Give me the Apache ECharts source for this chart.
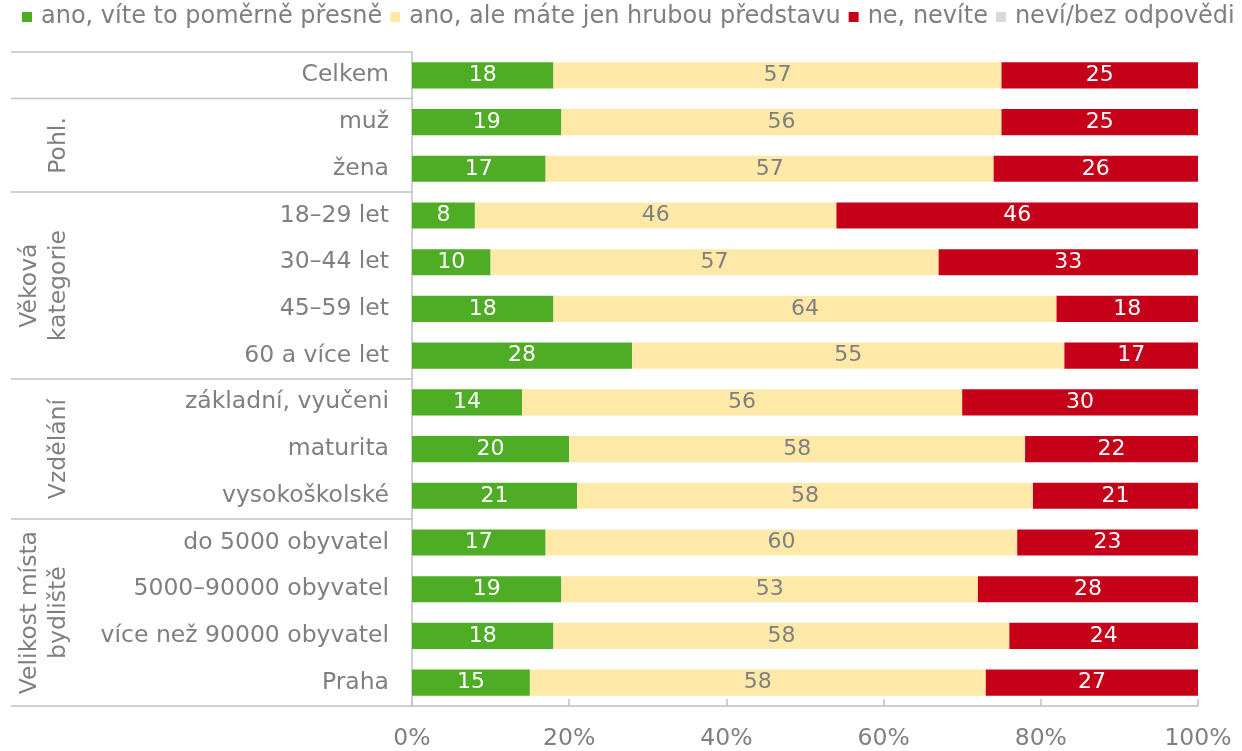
<!DOCTYPE html>
<html>
<head>
<meta charset="utf-8">
<script src="https://cdn.jsdelivr.net/npm/echarts@6/dist/echarts.min.js"></script>
<style>
  html, body { margin: 0; padding: 0; background: #fff; }
  #chart { width: 1242px; height: 751px; }
</style>
</head>
<body>
<div id="chart"></div>
<script>
// categories, top to bottom
const categories = [
  "Celkem",
  "muž", "žena",
  "18–29 let", "30–44 let", "45–59 let", "60 a více let",
  "základní, vyučeni", "maturita", "vysokoškolské",
  "do 5000 obyvatel", "5000–90000 obyvatel", "více než 90000 obyvatel", "Praha"
]

const seriesNames = [
  "ano, víte to poměrně přesně",
  "ano, ale máte jen hrubou představu",
  "ne, nevíte",
  "neví/bez odpovědi"
]

const exactly = [18, 19, 17, 8, 10, 18, 28, 14, 20, 21, 17, 19, 18, 15]
const roughly = [57, 56, 57, 46, 57, 64, 55, 56, 58, 58, 60, 53, 58, 58]
const dontKnow = [25, 25, 26, 46, 33, 18, 17, 30, 22, 21, 23, 28, 24, 27]
const noAnswer = [0, 0, 0, 0, 0, 0, 0, 0, 0, 0, 0, 0, 0, 0]

const xTicks = [0, 20, 40, 60, 80, 100]

// row groups (first/last category index), label text
const groups = [
  { from: 0, to: 0, label: "" },
  { from: 1, to: 2, label: "Pohl." },
  { from: 3, to: 6, label: "Věková\nkategorie" },
  { from: 7, to: 9, label: "Vzdělání" },
  { from: 10, to: 13, label: "Velikost místa\nbydliště" }
]

const colors = ["#4EAD25", "#FFE9A9", "#C7001A", "#D9D9D9"]
const gray = "#7f7f7f"
const lineGray = "#c0c0c0"
const font = "DejaVu Sans"

const chart = echarts.init(document.getElementById("chart"))

function barSeries(name, data, color, labelColor) {
  return {
    type: "bar",
    name,
    stack: "total",
    data,
    barWidth: "56%",
    itemStyle: { color },
    label: {
      show: labelColor != null,
      position: "inside",
      color: labelColor,
      fontFamily: font,
      fontSize: 22,
      formatter: (p) => (p.value > 0 ? p.value : "")
    }
  }
}

chart.setOption({
  animation: false,
  textStyle: { fontFamily: font },
  legend: {
    data: seriesNames,
    top: 5,
    left: 22,
    width: 1220,
    padding: 0,
    icon: "rect",
    itemWidth: 10,
    itemHeight: 10,
    itemGap: 8,
    textStyle: { fontSize: 24, color: gray, fontFamily: font, padding: [0, 0, 0, 4] }
  },
  grid: { left: 412, right: 44, top: 52, bottom: 42 },
  xAxis: {
    type: "value",
    min: xTicks[0],
    max: xTicks[xTicks.length - 1],
    interval: 20,
    axisLine: { show: true, lineStyle: { color: lineGray, width: 1.5 } },
    axisTick: { show: true, inside: true, length: 7, lineStyle: { color: lineGray, width: 1.5 } },
    splitLine: { show: false },
    axisLabel: { formatter: "{value}%", fontSize: 23.5, color: gray, margin: 21, fontFamily: font }
  },
  yAxis: {
    type: "category",
    data: categories,
    inverse: true,
    axisLine: { show: true, lineStyle: { color: lineGray, width: 1.5 } },
    axisTick: { show: false },
    axisLabel: { fontSize: 23.5, color: gray, margin: 23, fontFamily: font }
  },
  series: [
    barSeries(seriesNames[0], exactly, colors[0], "#fff"),
    barSeries(seriesNames[1], roughly, colors[1], gray),
    barSeries(seriesNames[2], dontKnow, colors[2], "#fff"),
    barSeries(seriesNames[3], noAnswer, colors[3], null)
  ]
})

// group separators and rotated group labels, placed from the category scale
function drawGroups() {
  const c0 = chart.convertToPixel({ yAxisIndex: 0 }, 0)
  const c1 = chart.convertToPixel({ yAxisIndex: 0 }, 1)
  const band = c1 - c0
  const axisX = chart.convertToPixel({ xAxisIndex: 0 }, 0)
  const elements = []
  const edges = new Set()
  groups.forEach(g => {
    const top = chart.convertToPixel({ yAxisIndex: 0 }, g.from) - band / 2
    const bottom = chart.convertToPixel({ yAxisIndex: 0 }, g.to) + band / 2
    edges.add(Math.round(top * 2) / 2)
    edges.add(Math.round(bottom * 2) / 2)
    if (g.label) {
      elements.push({
        type: "text",
        x: 73,
        y: (top + bottom) / 2,
        rotation: Math.PI / 2,
        style: {
          text: g.label,
          fill: gray,
          fontFamily: font,
          fontSize: 23.5,
          lineHeight: 29,
          align: "center",
          verticalAlign: "bottom"
        }
      })
    }
  })
  edges.forEach(y => {
    elements.push({
      type: "line",
      shape: { x1: 11, y1: y, x2: axisX, y2: y },
      style: { stroke: lineGray, lineWidth: 1.5 }
    })
  })
  chart.setOption({ graphic: { elements } })
}

drawGroups()
</script>
</body>
</html>
